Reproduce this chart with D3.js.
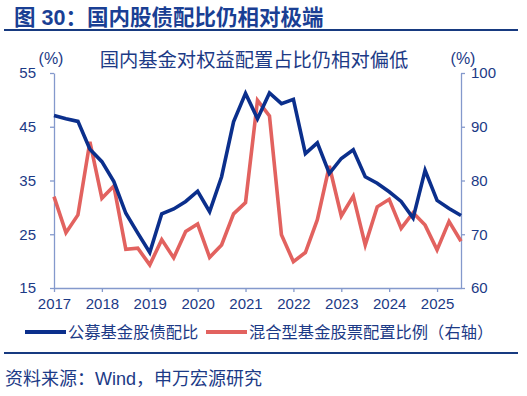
<!DOCTYPE html>
<html>
<head>
<meta charset="utf-8">
<script src="https://cdn.jsdelivr.net/npm/d3@7"></script>
<style>
  body { margin: 0; background: #fff; }
  svg { display: block; font-family: "Liberation Sans", "Noto Sans CJK SC", sans-serif; }
</style>
</head>
<body>
<svg id="chart" width="527" height="396"></svg>
<script>
// quarterly points, 2017Q1 .. 2025Q3
const quarters = d3.range(35).map(i => 2017 + i * 0.25);
const yearTicks = [2017, 2018, 2019, 2020, 2021, 2022, 2023, 2024, 2025];

// 公募基金股债配比 (left axis)
const stockBondRatio = [
    47.1, 46.5, 46.0, 40.8, 38.5, 34.8, 28.9, 25.2, 21.6, 28.8,
    29.7, 31.1, 33.0, 29.2, 35.7, 45.9, 51.2, 46.5, 51.3, 49.3,
    50.1, 40.0, 42.0, 36.3, 39.1, 40.7, 35.7, 34.5, 32.9, 31.1,
    28.0, 36.9, 31.3, 29.8, 28.5
];

// 混合型基金股票配置比例 (right axis)
const mixedEquityShare = [
    77.0, 70.3, 73.6, 87.2, 76.7, 79.0, 67.2, 67.4, 64.3, 69.0,
    65.6, 70.5, 71.9, 65.7, 68.0, 73.8, 75.9, 94.9, 92.0, 69.9,
    64.9, 66.6, 72.7, 82.7, 73.4, 77.1, 68.0, 75.1, 76.5, 71.1,
    74.0, 71.7, 67.1, 72.4, 68.7
];

const leftTicks = [15, 25, 35, 45, 55];
const rightTicks = [60, 70, 80, 90, 100];

const navy = '#0b2f8c';
const red = '#e2625f';
const textBlue = '#1c3a86';
const axisColor = '#8499cc';

const svg = d3.select('#chart');
const margin = { left: 54, right: 66, top: 73, bottom: 108 };
const width = 527, height = 396;

const x = d3.scaleLinear().domain([2017, 2025.5]).range([margin.left, width - margin.right]);
const yL = d3.scaleLinear().domain([15, 55]).range([height - margin.bottom, margin.top]);
const yR = d3.scaleLinear().domain([60, 100]).range([height - margin.bottom, margin.top]);

// header
svg.append('text')
    .attr('x', 14).attr('y', 25)
    .attr('font-size', 21.5).attr('font-weight', 'bold')
    .attr('fill', '#1a3f94')
    .text('图 30：国内股债配比仍相对极端');

svg.append('rect').attr('x', 4).attr('y', 29).attr('width', 514).attr('height', 2).attr('fill', '#173a80');

svg.append('text')
    .attr('x', 254).attr('y', 67)
    .attr('text-anchor', 'middle')
    .attr('font-size', 19.3)
    .attr('fill', textBlue)
    .text('国内基金对权益配置占比仍相对偏低');

svg.append('text').attr('x', 51).attr('y', 64).attr('text-anchor', 'middle')
    .attr('font-size', 16).attr('fill', textBlue).text('(%)');
svg.append('text').attr('x', 463).attr('y', 64).attr('text-anchor', 'middle')
    .attr('font-size', 16).attr('fill', textBlue).text('(%)');

// axes
const styleAxis = g => {
    g.select('.domain').attr('stroke', axisColor).attr('stroke-width', 1.3);
    g.selectAll('.tick line').attr('stroke', axisColor).attr('stroke-width', 1.3);
    g.selectAll('.tick text').attr('fill', textBlue).attr('font-size', 15);
};

svg.append('g')
    .attr('transform', `translate(${margin.left},0)`)
    .call(d3.axisLeft(yL).tickValues(leftTicks).tickSize(4).tickSizeOuter(0).tickPadding(14))
    .call(styleAxis);

svg.append('g')
    .attr('transform', `translate(${width - margin.right},0)`)
    .call(d3.axisRight(yR).tickValues(rightTicks).tickSize(4).tickSizeOuter(0).tickPadding(6))
    .call(styleAxis);

svg.append('g')
    .attr('transform', `translate(0,${height - margin.bottom})`)
    .call(d3.axisBottom(x).tickValues(yearTicks).tickFormat(d3.format('d')).tickSize(4).tickSizeOuter(0).tickPadding(6))
    .call(styleAxis);

// lines
const lineL = d3.line().x((d, i) => x(quarters[i])).y(d => yL(d));
const lineR = d3.line().x((d, i) => x(quarters[i])).y(d => yR(d));

svg.append('path')
    .datum(mixedEquityShare)
    .attr('d', lineR)
    .attr('fill', 'none')
    .attr('stroke', red)
    .attr('stroke-width', 3.6)
    .attr('stroke-linejoin', 'miter');

svg.append('path')
    .datum(stockBondRatio)
    .attr('d', lineL)
    .attr('fill', 'none')
    .attr('stroke', navy)
    .attr('stroke-width', 3.6)
    .attr('stroke-linejoin', 'miter');

// legend
const legend = svg.append('g').attr('font-size', 16.3).attr('fill', textBlue);
legend.append('line').attr('x1', 25).attr('x2', 66).attr('y1', 332).attr('y2', 332)
    .attr('stroke', navy).attr('stroke-width', 4);
legend.append('text').attr('x', 68).attr('y', 338).text('公募基金股债配比');
legend.append('line').attr('x1', 206).attr('x2', 247).attr('y1', 332).attr('y2', 332)
    .attr('stroke', red).attr('stroke-width', 4);
legend.append('text').attr('x', 249).attr('y', 338).text('混合型基金股票配置比例（右轴）');

svg.append('rect').attr('x', 4).attr('y', 352).attr('width', 514).attr('height', 2).attr('fill', '#173a80');

svg.append('text')
    .attr('x', 5).attr('y', 385)
    .attr('font-size', 18)
    .attr('fill', '#1c3a86')
    .text('资料来源：Wind，申万宏源研究');
</script>
</body>
</html>
